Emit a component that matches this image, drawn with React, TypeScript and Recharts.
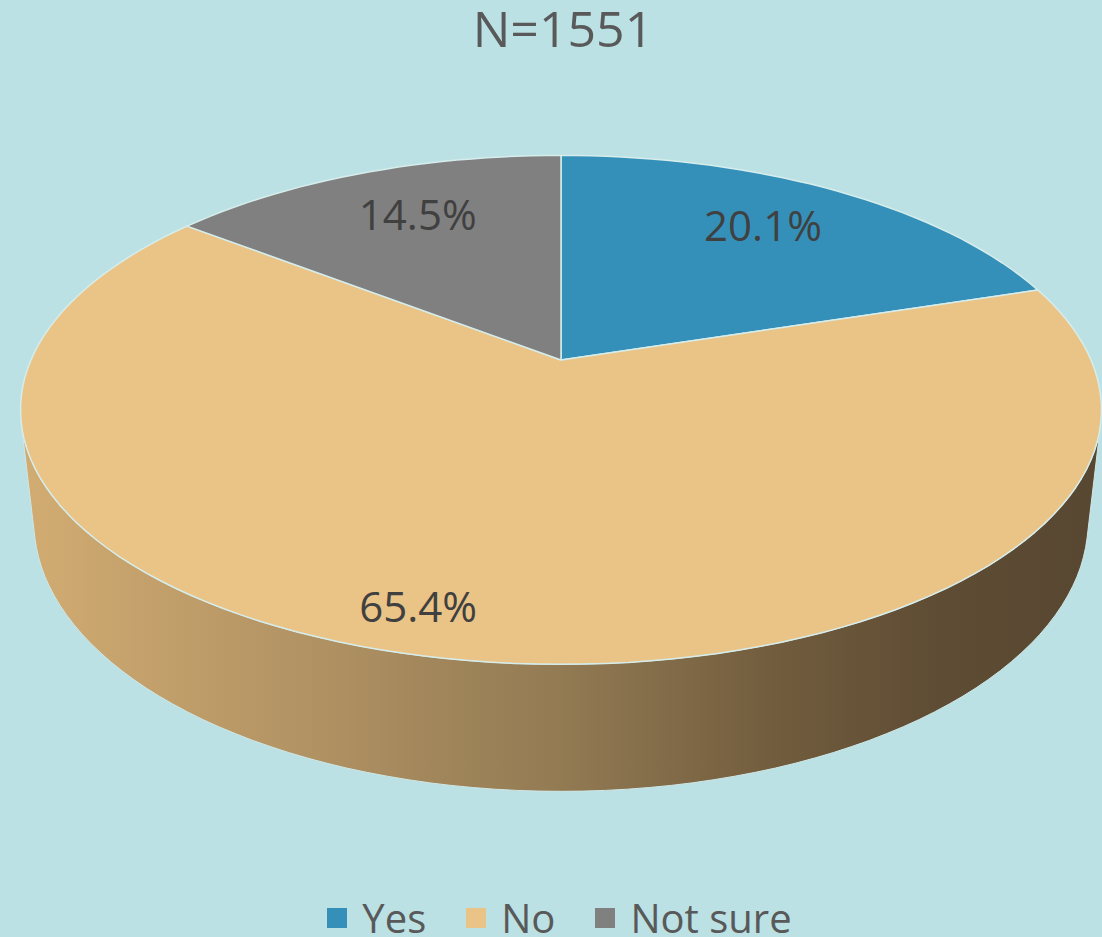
import React from "react";
import { PieChart, Pie, Cell, Legend } from "recharts";

const TITLE = "N=1551";
const CATEGORIES = ["Yes", "No", "Not sure"];
const SHARES = [20.1, 65.4, 14.5];
const COLORS = ["#3590B9", "#EAC386", "#808080"];

const data = CATEGORIES.map((name, i) => ({ name, value: SHARES[i] }));

// 3D view of the disc: tilt, camera distance and depth of the rim
const WIDTH = 1102;
const HEIGHT = 937;
const CX = 561;
const CY = 360;
const R = 530;
const DEPTH = 127;
const CAM = 2400;
const TILT = (27.5 * Math.PI) / 180;
const SIN_T = Math.sin(TILT);
const COS_T = Math.cos(TILT);
// label placement per slice: fraction of radius and a small turn off the mid angle
const LABEL_R = [0.742, 0.876, 0.731];
const LABEL_TURN = [1.1, -4.8, -1.4];

const rad = (d: number) => (d * Math.PI) / 180;

// pie angle (recharts convention, 90 = back) -> screen point
function project(angle: number, radius: number, h = 0): [number, number] {
  const u = radius * Math.cos(rad(angle));
  const v = -radius * Math.sin(rad(angle));
  const y = v * SIN_T - h * COS_T;
  const z = v * COS_T + h * SIN_T;
  const k = CAM / (CAM - z);
  return [CX + u * k, CY + y * k];
}

function arc(from: number, to: number, h: number) {
  const steps = Math.max(2, Math.ceil(Math.abs(to - from) / 2));
  const pts: string[] = [];
  for (let i = 0; i <= steps; i++) {
    const [x, y] = project(from + ((to - from) * i) / steps, R, h);
    pts.push(`${x.toFixed(1)},${y.toFixed(1)}`);
  }
  return pts;
}

// part of the rim that faces the camera
const tangent = (Math.asin(R / (CAM * COS_T)) * 180) / Math.PI;
const SIDE_FROM = 180 + tangent;
const SIDE_TO = 360 - tangent;

function sidePaths(s: number, e: number) {
  const lo = Math.min(s, e);
  const hi = Math.max(s, e);
  const out: string[] = [];
  for (const shift of [-720, -360, 0, 360]) {
    const a = Math.max(lo, SIDE_FROM + shift);
    const b = Math.min(hi, SIDE_TO + shift);
    if (b > a) {
      const top = arc(a, b, 0);
      const bottom = arc(b, a, -DEPTH);
      out.push(`M${top.join(" L")} L${bottom.join(" L")} Z`);
    }
  }
  return out;
}

const renderSlice = (props: any) => {
  const { startAngle, endAngle, index, value } = props;
  const mid = (startAngle + endAngle) / 2;
  const face = `M${CX},${CY} L${arc(startAngle, endAngle, 0).join(" L")} Z`;
  const [tx, ty] = project(mid + LABEL_TURN[index], R * LABEL_R[index]);
  return (
    <g key={`slice-${index}`}>
      {sidePaths(startAngle, endAngle).map((d, j) => (
        <path key={j} d={d} fill="url(#sideShade)" fillOpacity={1} stroke="#CFE7E6" strokeWidth={1} />
      ))}
      <path
        d={face}
        fill={COLORS[index]}
        fillOpacity={1}
        stroke="#D6EDEC"
        strokeWidth={1.5}
        strokeLinejoin="round"
      />
      <text
        x={tx}
        y={ty - 3}
        textAnchor="middle"
        dominantBaseline="central"
        fontSize={42}
        fontFamily="'Open Sans', sans-serif"
        fill="#404040"
        stroke="none"
      >
        {`${Number(value).toFixed(1)}%`}
      </text>
    </g>
  );
};

const renderLegend = () => (
  <div
    style={{
      display: "flex",
      justifyContent: "center",
      alignItems: "center",
      gap: 40,
      paddingLeft: 17,
      fontFamily: "'Open Sans', sans-serif",
      fontSize: 40,
      lineHeight: "41px",
      color: "#595959",
    }}
  >
    {CATEGORIES.map((c, i) => (
      <div key={c} style={{ display: "flex", alignItems: "center", gap: 15 }}>
        <span style={{ display: "inline-block", width: 20, height: 20, background: COLORS[i] }} />
        <span>{c}</span>
      </div>
    ))}
  </div>
);

export default function App() {
  return (
    <div
      style={{
        position: "absolute",
        left: 0,
        top: 0,
        width: WIDTH,
        height: HEIGHT,
        background: "#BBE1E4",
        overflow: "hidden",
      }}
    >
      <div
        style={{
          position: "absolute",
          left: 563,
          top: 3,
          transform: "translateX(-50%)",
          fontFamily: "'Open Sans', sans-serif",
          fontSize: 50,
          lineHeight: "50px",
          color: "#595959",
          whiteSpace: "nowrap",
        }}
      >
        {TITLE}
      </div>
      <PieChart width={WIDTH} height={HEIGHT}>
        <defs>
          <linearGradient id="sideShade" x1="0" y1="0" x2="1" y2="0">
            <stop offset="0%" stopColor="#D2AC72" />
            <stop offset="30%" stopColor="#AD8F61" />
            <stop offset="50%" stopColor="#927A53" />
            <stop offset="70%" stopColor="#715C3D" />
            <stop offset="85%" stopColor="#5E4C34" />
            <stop offset="100%" stopColor="#584731" />
          </linearGradient>
        </defs>
        <Pie
          data={data}
          dataKey="value"
          nameKey="name"
          cx={CX}
          cy={CY}
          outerRadius={R}
          startAngle={90}
          endAngle={-270}
          stroke="none"
          fillOpacity={0}
          label={renderSlice}
          labelLine={false}
          isAnimationActive={false}
        >
          {data.map((d, i) => (
            <Cell key={d.name} fill={COLORS[i]} />
          ))}
        </Pie>
        <Legend
          content={renderLegend}
          wrapperStyle={{ top: 897, left: 0, width: WIDTH, height: 41 }}
        />
      </PieChart>
    </div>
  );
}
